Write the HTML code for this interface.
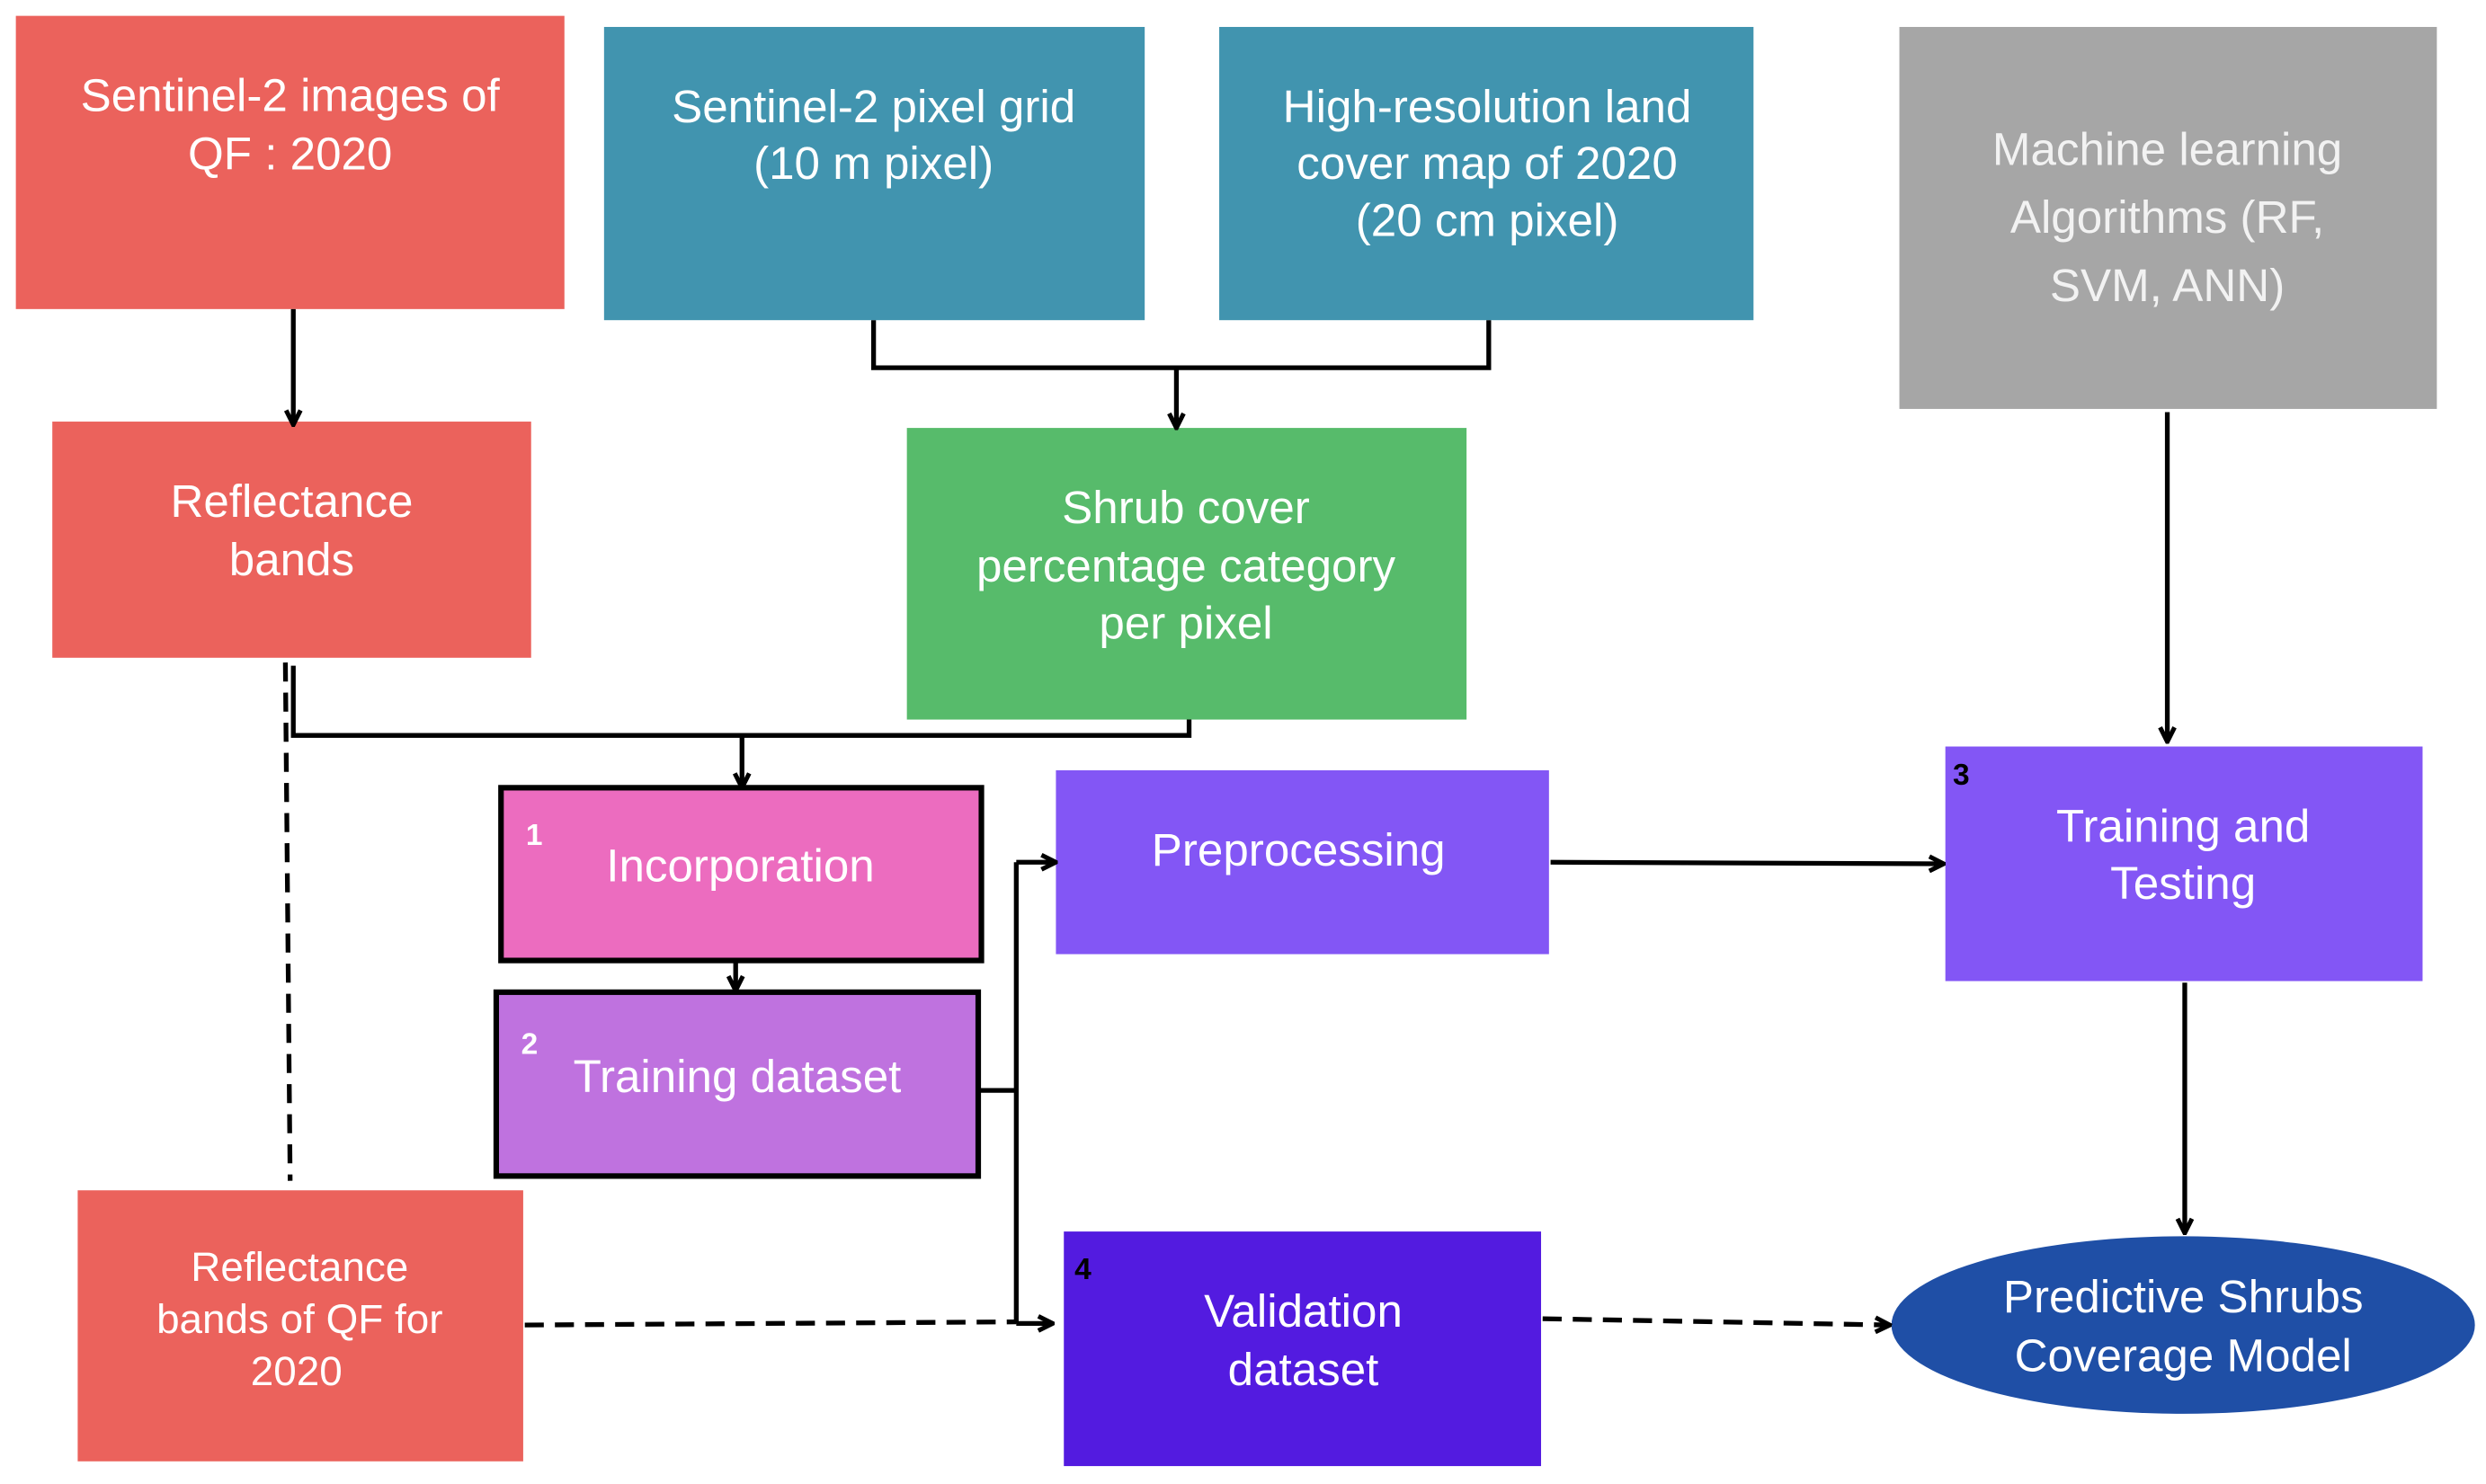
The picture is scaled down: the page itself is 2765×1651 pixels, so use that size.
<!DOCTYPE html>
<html><head><meta charset="utf-8"><style>
html,body{margin:0;padding:0;background:#fff;}
svg{display:block;}
text{font-family:"Liberation Sans",sans-serif;fill:#fff;text-anchor:middle;}
</style></head><body>
<svg width="2765" height="1651" viewBox="0 0 1568 936.3" preserveAspectRatio="none" xmlns="http://www.w3.org/2000/svg">
<defs>
<marker id="a" viewBox="0 0 10 10" refX="9" refY="5" markerWidth="13" markerHeight="13" orient="auto-start-reverse" markerUnits="userSpaceOnUse">
<path d="M2,1.5 L9,5 L2,8.5" fill="none" stroke="#000" stroke-width="2.2"/>
</marker>
</defs>
<style>.l{stroke:#000;stroke-width:3;fill:none}.d{stroke:#000;stroke-width:3;fill:none;stroke-dasharray:12 7}</style>
<rect x="10" y="10" width="346" height="185" fill="#EB625C"/>
<rect x="381" y="17" width="341" height="185" fill="#4194AF"/>
<rect x="769" y="17" width="337" height="185" fill="#4194AF"/>
<rect x="1198" y="17" width="339" height="241" fill="#A6A6A6"/>
<rect x="33" y="266" width="302" height="149" fill="#EB625C"/>
<rect x="572" y="270" width="353" height="184" fill="#57BB6B"/>
<rect x="316" y="497" width="303" height="109" fill="#EC6CBF" stroke="#000" stroke-width="3.5"/>
<rect x="313" y="626" width="304" height="116" fill="#BF72DF" stroke="#000" stroke-width="3.5"/>
<rect x="666" y="486" width="311" height="116" fill="#8356F5"/>
<rect x="1227" y="471" width="301" height="148" fill="#8356F5"/>
<rect x="49" y="751" width="281" height="171" fill="#EB625C"/>
<rect x="671" y="777" width="301" height="148" fill="#531BE0"/>
<ellipse cx="1377" cy="836" rx="184" ry="56" fill="#1F4FA6"/>
<path class="l" d="M185,195 V268" marker-end="url(#a)"/>
<path class="l" d="M551,202 V232 H939 V202"/>
<path class="l" d="M742,232 V270" marker-end="url(#a)"/>
<path class="l" d="M185,420 V464 H750 V454"/>
<path class="l" d="M468,464 V497" marker-end="url(#a)"/>
<path class="d" d="M180,418 L183,745"/>
<path class="l" d="M464,606 V625" marker-end="url(#a)"/>
<path class="l" d="M617,688 H641"/>
<path class="l" d="M641,544 V835"/>
<path class="l" d="M641,544 H666" marker-end="url(#a)"/>
<path class="l" d="M641,835 H664" marker-end="url(#a)"/>
<path class="d" d="M331,836 L641,834"/>
<path class="l" d="M978,544 L1226,545" marker-end="url(#a)"/>
<path class="l" d="M1367,260 V468" marker-end="url(#a)"/>
<path class="l" d="M1378,620 V778" marker-end="url(#a)"/>
<path class="d" d="M973,832 L1192,836" marker-end="url(#a)"/>
<g font-size="29">
<text x="183" y="70">Sentinel-2 images of</text>
<text x="183" y="107">QF : 2020</text>
<text x="551" y="77">Sentinel-2 pixel grid</text>
<text x="551" y="113">(10 m pixel)</text>
<text x="938" y="77">High-resolution land</text>
<text x="938" y="113">cover map of 2020</text>
<text x="938" y="149">(20 cm pixel)</text>
<text x="1367" y="104" style="fill:#F2F2F2">Machine learning</text>
<text x="1367" y="147" style="fill:#F2F2F2">Algorithms (RF,</text>
<text x="1367" y="190" style="fill:#F2F2F2">SVM, ANN)</text>
<text x="184" y="326">Reflectance</text>
<text x="184" y="363">bands</text>
<text x="748" y="330">Shrub cover</text>
<text x="748" y="367">percentage category</text>
<text x="748" y="403">per pixel</text>
<text x="467" y="556">Incorporation</text>
<text x="465" y="689">Training dataset</text>
<text x="819" y="546">Preprocessing</text>
<text x="1377" y="531">Training and</text>
<text x="1377" y="567">Testing</text>
<text x="822" y="837">Validation</text>
<text x="822" y="874">dataset</text>
<text x="1377" y="828">Predictive Shrubs</text>
<text x="1377" y="865">Coverage Model</text>
</g>
<g font-size="26">
<text x="189" y="808">Reflectance</text>
<text x="189" y="841">bands of QF for</text>
<text x="187" y="874">2020</text>
</g>
<g font-size="19" font-weight="bold">
<text x="337" y="533">1</text>
<text x="334" y="665">2</text>
<text x="1237" y="495" style="fill:#000">3</text>
<text x="683" y="807" style="fill:#000">4</text>
</g>
</svg>
</body></html>
